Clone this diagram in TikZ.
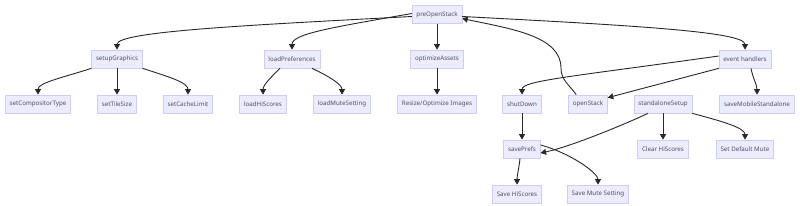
\documentclass[tikz,border=0pt]{standalone}
\usepackage{fontspec}
\setmainfont{Noto Sans}
\usetikzlibrary{arrows.meta}
\definecolor{mmfill}{RGB}{236,236,255}
\definecolor{mmline}{RGB}{208,204,248}
\definecolor{mmtext}{RGB}{80,80,90}
\definecolor{mmedge}{RGB}{40,40,40}

\begin{document}
\begin{tikzpicture}[x=1pt, y=-1pt,
  box/.style={draw=mmline, fill=mmfill, text=mmtext, line width=0.7pt,
    font=\fontsize{6.2}{7}\selectfont, minimum height=18pt, inner xsep=4.3pt},
  edge/.style={draw=mmedge, line width=0.9pt, -{Triangle[length=5.5pt,width=6pt]}}]
  \useasboundingbox (0,0) rectangle (800,206);

  % top level
  \node[box] (pre) at (437,14.5) {preOpenStack};

  % second row
  \node[box] (sg) at (117,59) {setupGraphics};
  \node[box] (lp) at (292,59) {loadPreferences};
  \node[box] (oa) at (437,59) {optimizeAssets};
  \node[box] (eh) at (745,59) {event handlers};

  % third row
  \node[box] (sct) at (38,104) {setCompositorType};
  \node[box] (sts) at (117,104) {setTileSize};
  \node[box] (scl) at (188,104) {setCacheLimit};
  \node[box] (lhs) at (263,104) {loadHiScores};
  \node[box] (lms) at (342,104) {loadMuteSetting};
  \node[box] (roi) at (437,104) {Resize/Optimize Images};
  \node[box] (sd) at (522,104) {shutDown};
  \node[box] (os) at (588,104) {openStack};
  \node[box] (ss) at (663,104) {standaloneSetup};
  \node[box] (sms) at (757,104) {saveMobileStandalone};

  % fourth row
  \node[box] (sp) at (522,149) {savePrefs};
  \node[box] (chs) at (663,149) {Clear HiScores};
  \node[box] (sdm) at (745,149) {Set Default Mute};

  % bottom row
  \node[box] (shs) at (517,194) {Save HiScores};
  \node[box] (sme) at (598,194) {Save Mute Setting};

  % edges from preOpenStack
  \draw[edge] ([yshift=-2pt]pre.west) to[out=183, in=90, out distance=170pt, in distance=18pt] (sg.north);
  \draw[edge] ([yshift=1pt]pre.west) to[out=190, in=90, out distance=80pt, in distance=16pt] (lp.north);
  \draw[edge] (pre.south) -- (oa.north);
  \draw[edge] ([yshift=-2pt]pre.east) to[out=-3, in=90, out distance=170pt, in distance=18pt] (eh.north);
  \draw[edge] ([xshift=8pt]os.north west) to[out=125, in=-90, out distance=12pt, in distance=12pt] (561,68)
    to[out=90, in=-12, out distance=32pt, in distance=50pt] ([yshift=-4pt]pre.east);

  % setupGraphics
  \draw[edge] (sg.south west) to[out=198, in=90, out distance=30pt, in distance=12pt] (sct.north);
  \draw[edge] (sg.south) -- (sts.north);
  \draw[edge] (sg.south east) to[out=-18, in=90, out distance=30pt, in distance=12pt] (scl.north);

  % loadPreferences
  \draw[edge] ([xshift=-12pt]lp.south) to[out=225, in=90, out distance=10pt, in distance=10pt] (lhs.north);
  \draw[edge] ([xshift=20pt]lp.south) to[out=-25, in=90, out distance=20pt, in distance=10pt] (lms.north);

  % optimizeAssets
  \draw[edge] (oa.south) -- (roi.north);

  % event handlers
  \draw[edge] ([yshift=3pt]eh.west) to[out=188, in=90, out distance=150pt, in distance=14pt] (sd.north);
  \draw[edge] (eh.south west) -- ([yshift=-3pt]os.north east);
  \draw[edge] ([xshift=6pt]eh.south) to[out=-80, in=90, out distance=10pt, in distance=10pt] (sms.north);

  % shutDown
  \draw[edge] (sd.south) -- (sp.north);

  % standaloneSetup
  \draw[edge] ([xshift=-15pt]ss.south) to[out=205, in=12, out distance=30pt, in distance=30pt] ([yshift=-4pt]sp.east);
  \draw[edge] (ss.south) -- (chs.north);
  \draw[edge] (ss.south east) to[out=-15, in=90, out distance=30pt, in distance=12pt] (sdm.north);

  % savePrefs
  \draw[edge] ([xshift=-2pt]sp.south) to[out=-95, in=90, out distance=10pt, in distance=10pt] (shs.north);
  \draw[edge] ([yshift=4pt]sp.east) to[out=-15, in=90, out distance=30pt, in distance=12pt] (sme.north);
\end{tikzpicture}
\end{document}
